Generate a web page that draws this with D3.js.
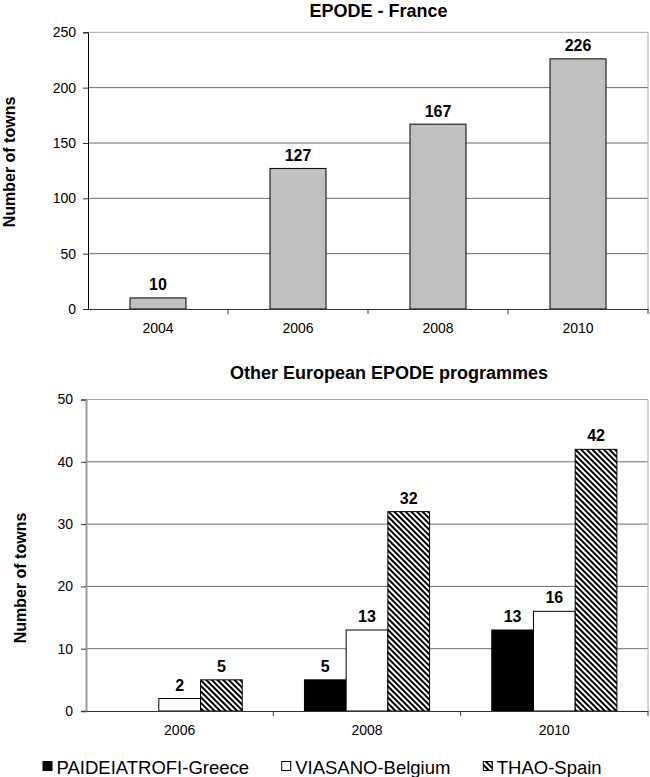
<!DOCTYPE html>
<html><head><meta charset="utf-8">
<script src="https://cdn.jsdelivr.net/npm/d3@7"></script>
<style>
html,body{margin:0;padding:0;background:#fff;}
text{font-family:"Liberation Sans",Arial,sans-serif;}
</style></head>
<body>
<svg id="c" width="650" height="777"></svg>
<script>
// ---- data ----
const franceYears = ["2004","2006","2008","2010"];
const franceTowns = [10,127,167,226];
const franceTicks = [0,50,100,150,200,250];

const otherYears = ["2006","2008","2010"];
const seriesNames = ["PAIDEIATROFI-Greece","VIASANO-Belgium","THAO-Spain"];
const greece  = [null,5,13];
const belgium = [2,13,16];
const spain   = [5,32,42];
const otherTicks = [0,10,20,30,40,50];

const svg = d3.select("#c");
const defs = svg.append("defs");
const pat = defs.append("pattern").attr("id","hatch").attr("patternUnits","userSpaceOnUse")
  .attr("width",4).attr("height",4).attr("patternTransform","rotate(-45)");
pat.append("rect").attr("width",4).attr("height",4).attr("fill","#fff");
pat.append("rect").attr("width",2).attr("height",4).attr("fill","#000");

const fills = ["#000","#fff","url(#hatch)"];

function frame(g, x0, x1, y, ticks, axisColor, tickLabelX){
  // gridlines
  g.selectAll(".grid").data(ticks.slice(1)).join("line")
    .attr("x1",x0).attr("x2",x1).attr("y1",d=>y(d)).attr("y2",d=>y(d))
    .attr("stroke",(d,i)=> i===ticks.length-2 ? "#a8a8a8" : "#6a6a6a").attr("stroke-width",1);
  // right border
  g.append("line").attr("x1",x1).attr("x2",x1).attr("y1",y.range()[1]).attr("y2",y.range()[0])
    .attr("stroke","#a8a8a8");
  // y axis
  const ya = d3.axisLeft(y).tickValues(ticks).tickSize(5).tickPadding(tickLabelX);
  const ag = g.append("g").attr("transform",`translate(${x0},0)`).call(ya);
  ag.select(".domain").attr("stroke",axisColor).attr("stroke-width",axisColor==="#000"?1:2);
  ag.selectAll(".tick line").attr("stroke","#333");
  ag.selectAll("text").attr("font-size",14).attr("fill","#000");
}

// ---- top chart ----
{
  const g = svg.append("g");
  const x = d3.scaleBand().domain(franceYears).range([88,648]).padding(0);
  const y = d3.scaleLinear().domain([0,250]).range([309,32.3]);
  frame(g, 88, 648, y, franceTicks, "#000", 7);
  const bw = x.bandwidth()*0.4;
  g.selectAll(".bar").data(franceYears).join("rect")
    .attr("x",d=>x(d)+x.bandwidth()/2-bw/2).attr("width",bw)
    .attr("y",(d,i)=>y(franceTowns[i])).attr("height",(d,i)=>y(0)-y(franceTowns[i]))
    .attr("fill","#c0c0c0").attr("stroke","#000").attr("stroke-width",1);
  g.selectAll(".val").data(franceYears).join("text")
    .attr("x",d=>x(d)+x.bandwidth()/2).attr("y",(d,i)=>y(franceTowns[i])-7.5)
    .attr("text-anchor","middle").attr("font-size",16).attr("font-weight","bold")
    .text((d,i)=>franceTowns[i]);
  // x axis
  const xa = d3.axisBottom(x).tickSize(0).tickPadding(14);
  const xg = g.append("g").attr("transform","translate(0,309)").call(xa);
  xg.select(".domain").attr("stroke","#333");
  xg.selectAll("text").attr("font-size",14).attr("fill","#000");
  g.selectAll(".xt").data(franceYears).join("line")
    .attr("x1",d=>x(d)+x.bandwidth()).attr("x2",d=>x(d)+x.bandwidth())
    .attr("y1",309).attr("y2",314).attr("stroke","#333");
  svg.append("text").attr("x",378.5).attr("y",16.5).attr("text-anchor","middle")
    .attr("font-size",18).attr("font-weight","bold").text("EPODE - France");
  svg.append("text").attr("transform","translate(15,162) rotate(-90)").attr("text-anchor","middle")
    .attr("font-size",16).attr("font-weight","bold").text("Number of towns");
}

// ---- bottom chart ----
{
  const g = svg.append("g");
  const x = d3.scaleBand().domain(otherYears).range([86,648]).padding(0);
  const y = d3.scaleLinear().domain([0,50]).range([711,399.5]);
  frame(g, 86, 648, y, otherTicks, "#999", 8);
  const inner = d3.scaleBand().domain(seriesNames)
    .range([x.bandwidth()*0.166, x.bandwidth()*0.834]).padding(0);
  const vals = [greece, belgium, spain];
  const data = [];
  otherYears.forEach((yr,i)=>seriesNames.forEach((s,j)=>{
    if(vals[j][i]!=null) data.push({yr, s, j, v: vals[j][i]});
  }));
  g.selectAll(".bar").data(data).join("rect")
    .attr("x",d=>x(d.yr)+inner(d.s)).attr("width",inner.bandwidth())
    .attr("y",d=>y(d.v)).attr("height",d=>y(0)-y(d.v))
    .attr("fill",d=>fills[d.j]).attr("stroke","#000").attr("stroke-width",1);
  g.selectAll(".val").data(data).join("text")
    .attr("x",d=>x(d.yr)+inner(d.s)+inner.bandwidth()/2).attr("y",d=>y(d.v)-8)
    .attr("text-anchor","middle").attr("font-size",16).attr("font-weight","bold")
    .text(d=>d.v);
  const xa = d3.axisBottom(x).tickSize(0).tickPadding(14);
  const xg = g.append("g").attr("transform","translate(0,711)").call(xa);
  xg.select(".domain").attr("stroke","#333");
  xg.selectAll("text").attr("font-size",14).attr("fill","#000");
  g.selectAll(".xt").data(otherYears).join("line")
    .attr("x1",d=>x(d)+x.bandwidth()).attr("x2",d=>x(d)+x.bandwidth())
    .attr("y1",711).attr("y2",716).attr("stroke","#333");
  svg.append("text").attr("x",389).attr("y",379).attr("text-anchor","middle")
    .attr("font-size",18).attr("font-weight","bold").text("Other European EPODE programmes");
  svg.append("text").attr("transform","translate(26,578) rotate(-90)").attr("text-anchor","middle")
    .attr("font-size",16).attr("font-weight","bold").text("Number of towns");

  // legend
  const lx = [43, 281.7, 483.3];
  const lg = svg.append("g");
  seriesNames.forEach((s,j)=>{
    lg.append("rect").attr("x",lx[j]).attr("y",761.5).attr("width",9).attr("height",9)
      .attr("fill",fills[j]).attr("stroke","#000").attr("stroke-width",1);
    lg.append("text").attr("x",lx[j]+13.5).attr("y",773.5).attr("font-size",18.5).text(s);
  });
}
</script>
</body></html>
